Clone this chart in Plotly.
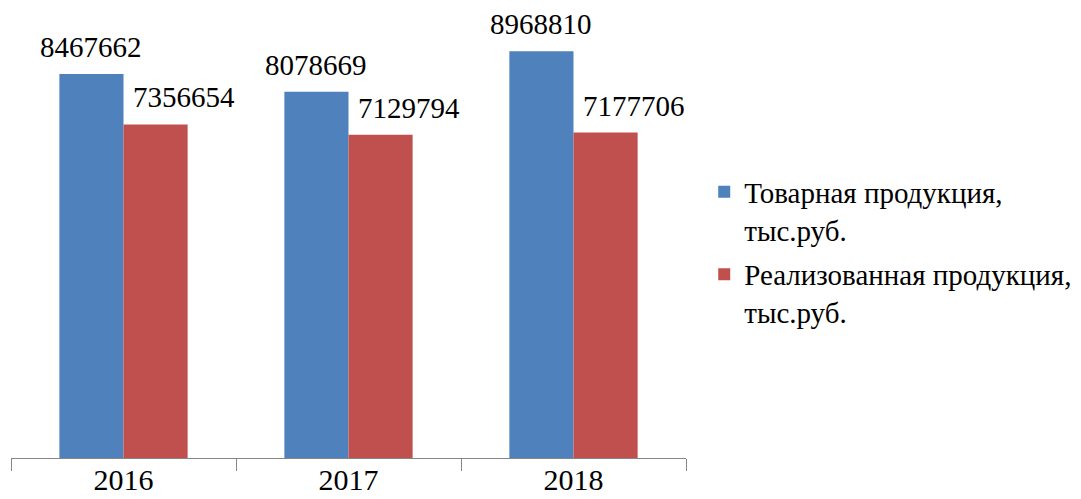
import plotly.graph_objects as go

years = ["2016", "2017", "2018"]
commodity = [8467662, 8078669, 8968810]
sold = [7356654, 7129794, 7177706]
series_names = ["Товарная продукция,<br>тыс.руб.", "Реализованная продукция,<br>тыс.руб."]

BLUE = "#4F81BD"
RED = "#C0504D"
FONT = "Liberation Serif"

fig = go.Figure()
fig.add_bar(x=years, y=commodity, name=series_names[0], legendgroup="a",
            marker=dict(color=BLUE, line=dict(width=0)))
fig.add_bar(x=years, y=sold, name=series_names[1], legendgroup="b",
            marker=dict(color=RED, line=dict(width=0)))

# value labels above each bar (x given as category index)
for i, v in enumerate(commodity):
    fig.add_annotation(x=i, y=v, text=str(v), showarrow=False, xshift=-33, yshift=27,
                       yanchor="middle", font=dict(family=FONT, size=29, color="#000"))
for i, v in enumerate(sold):
    fig.add_annotation(x=i, y=v, text=str(v), showarrow=False, xshift=60, yshift=27,
                       yanchor="middle", font=dict(family=FONT, size=29, color="#000"))

fig.update_layout(
    width=1081, height=499,
    margin=dict(l=11, r=395, t=10, b=41, autoexpand=False),
    paper_bgcolor="white", plot_bgcolor="white",
    barmode="group", bargap=0.43, bargroupgap=0,
    font=dict(family=FONT, color="#000"),
    showlegend=True,
    legend=dict(x=1.027, y=0.46, xanchor="left", yanchor="middle", valign="top",
                font=dict(family=FONT, size=29), tracegroupgap=4,
                itemwidth=30),
    xaxis=dict(type="category", range=[-0.5, 2.5], automargin=False,
               showline=True, linecolor="#868686", linewidth=1,
               ticks="outside", tickson="boundaries", ticklen=12, tickcolor="#868686",
               tickfont=dict(family=FONT, size=30), ticklabelstandoff=-5,
               showgrid=False, tickangle=0),
    yaxis=dict(range=[0, 9.88e6], visible=False, showgrid=False, automargin=False),
)

fig.write_html("out.html")
